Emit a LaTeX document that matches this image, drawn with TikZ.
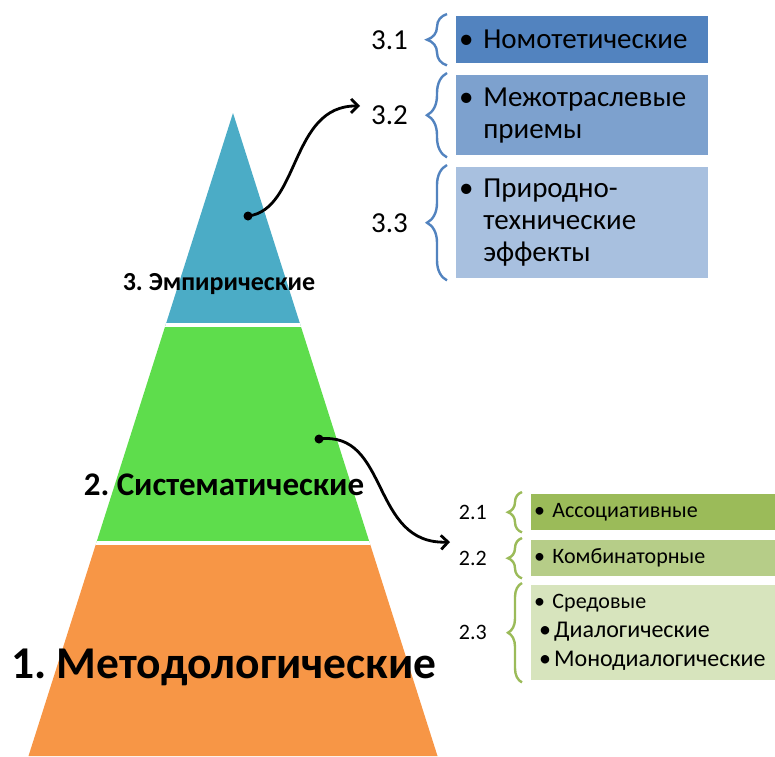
\documentclass[tikz,border=0pt]{standalone}
\usepackage{fontspec}
\setmainfont{Carlito}
\usetikzlibrary{arrows.meta,decorations.pathreplacing}

\definecolor{empblue}{HTML}{4BACC6}
\definecolor{sysgreen}{HTML}{5EDD4C}
\definecolor{metorange}{HTML}{F79646}
\definecolor{blueA}{HTML}{5283BF}
\definecolor{blueB}{HTML}{7DA1CE}
\definecolor{blueC}{HTML}{A8C0DF}
\definecolor{greenA}{HTML}{9BBB59}
\definecolor{greenB}{HTML}{B6CD88}
\definecolor{greenC}{HTML}{D7E4BD}

\tikzset{
  topbox/.style={anchor=north west, minimum width=252pt, text width=246pt,
    inner xsep=3pt, inner ysep=0pt, align=left, font=\fontsize{29}{32}\selectfont},
  lowbox/.style={anchor=north west, minimum width=244pt, text width=238pt,
    inner xsep=3pt, inner ysep=0pt, align=left, font=\fontsize{22}{29}\selectfont},
  toplabel/.style={anchor=east, inner sep=0pt, font=\fontsize{29}{32}\selectfont},
  lowlabel/.style={anchor=east, inner sep=0pt, font=\fontsize{22}{26}\selectfont},
  level/.style={font=\bfseries\fontsize{#1}{#1}\selectfont},
  curly/.style={decorate, decoration={brace, amplitude=#1}, line width=2.4pt},
  dot/.style={circle, fill=black, inner sep=0pt, minimum size=9pt},
  link/.style={line width=2.8pt, -{Straight Barb[length=7pt,width=14pt]}},
}

\begin{document}
\frenchspacing
\begin{tikzpicture}[x=1pt,y=-1pt]
\useasboundingbox (0,0) rectangle (775,756);
\def\ind{\phantom{•\ }}
\def\sub{\hspace*{5pt}\fontsize{24}{29}\selectfont•\hspace{3pt}}

\begin{scope} % pyramid layers
\clip (233,113) -- (437.5,756) -- (28.5,756) -- cycle;
\fill[empblue] (0,100) rectangle (460,325);
\fill[sysgreen] (0,325) rectangle (460,543);
\fill[metorange] (0,543) rectangle (460,760);
\draw[white, line width=4pt] (0,325) -- (460,325) (0,543) -- (460,543);
\end{scope}

\node[level=26] (p3) at (219,284) {3. Эмпирические};
\node[level=33] (p2) at (224,485) {2. Систематические};
\node[level=45.5] (p1) at (224,667) {1. Методологические};

% empirical group
\node[topbox, fill=blueA, minimum height=47pt] (b31) at (456,16) {• Номотетические};
\node[topbox, fill=blueB, minimum height=80pt] (b32) at (456,75) {• Межотраслевые\\\ind приемы};
\node[topbox, fill=blueC, minimum height=111pt] (b33) at (456,167) {• Природно-\\\ind технические\\\ind эффекты};
\foreach \b/\t in {b31/3.1, b32/3.2, b33/3.3}{
  \draw[curly=20pt, blueA] ([shift={(-9pt,-2pt)}]\b.south west) -- ([shift={(-9pt,2pt)}]\b.north west);
  \node[toplabel] (l\b) at ([xshift=-48pt]\b.west) {\t};
}

% systematic group
\node[lowbox, fill=greenA, minimum height=36pt] (b21) at (531,494) {• Ассоциативные};
\node[lowbox, fill=greenB, minimum height=36pt] (b22) at (531,540) {• Комбинаторные};
\node[lowbox, fill=greenC, minimum height=95pt] (b23) at (531,585) {• Средовые\\{\sub Диалогические}\\{\sub Монодиалогические}};
\foreach \b/\t in {b21/2.1, b22/2.2, b23/2.3}{
  \draw[curly=14pt, greenA] ([shift={(-9pt,-2pt)}]\b.south west) -- ([shift={(-9pt,2pt)}]\b.north west);
  \node[lowlabel] (l\b) at ([xshift=-44pt]\b.west) {\t};
}

% links from the pyramid
\coordinate (e3) at (360,106);
\coordinate (e2) at (450,542);
\draw[link] (248,216) .. controls (300,210) and (290,105) .. (e3);
\draw[link] (319,439) .. controls (390,430) and (370,545) .. (e2);
\node[dot] (d3) at (248,216) {};
\node[dot] (d2) at (319,439) {};
\end{tikzpicture}
\end{document}
